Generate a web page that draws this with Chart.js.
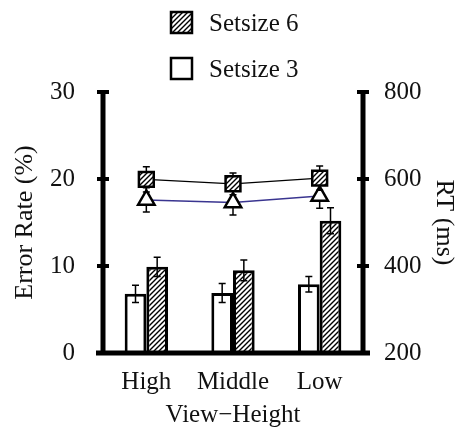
<!DOCTYPE html>
<html lang="en">
<head>
<meta charset="UTF-8">
<title>Error Rate and RT by View-Height</title>
<script src="https://cdn.jsdelivr.net/npm/chart.js"></script>
<style>
  body { margin: 0; background: #fff; }
  #wrap { width: 459px; height: 430px; }
</style>
</head>
<body>
<div id="wrap"><canvas id="chart" width="459" height="430"></canvas></div>
<script>
// data
const categories = ['High', 'Middle', 'Low'];
const errorRate3 = [6.8, 6.9, 7.9];
const errorRate3Err = [1.0, 1.1, 0.9];
const errorRate6 = [9.9, 9.5, 15.2];
const errorRate6Err = [1.1, 1.2, 1.5];
const rt6 = [599, 589, 602];
const rt6Err = [29, 25, 28];
const rt3 = [552, 546, 561];
const rt3Err = [28, 29, 28];
const errorTicks = [0, 10, 20, 30];
const rtTicks = [200, 400, 600, 800];

const FONT = "'Liberation Serif', 'DejaVu Serif', serif";
const INK = '#111';

// diagonal hatch fill
function makeHatch() {
    const c = document.createElement('canvas');
    c.width = 5; c.height = 5;
    const g = c.getContext('2d');
    g.fillStyle = '#fff';
    g.fillRect(0, 0, 5, 5);
    g.strokeStyle = '#000';
    g.lineWidth = 1.4;
    g.beginPath();
    g.moveTo(-1, 6); g.lineTo(6, -1);
    g.moveTo(-1, 1); g.lineTo(1, -1);
    g.moveTo(4, 6); g.lineTo(6, 4);
    g.stroke();
    return g.createPattern(c, 'repeat');
}
const hatch = makeHatch();

function drawErrors(chart, index) {
    const ds = chart.data.datasets[index];
    if (!ds.err) return;
    const meta = chart.getDatasetMeta(index);
    const scale = chart.scales[meta.yAxisID];
    const ctx = chart.ctx;
    ctx.save();
    ctx.strokeStyle = '#000';
    ctx.lineWidth = 1.5;
    meta.data.forEach((el, j) => {
        const v = ds.data[j], e = ds.err[j];
        const yTop = scale.getPixelForValue(v + e);
        const yBot = scale.getPixelForValue(v - e);
        const x = el.x;
        ctx.beginPath();
        ctx.moveTo(x, yTop); ctx.lineTo(x, yBot);
        ctx.moveTo(x - 3.5, yTop); ctx.lineTo(x + 3.5, yTop);
        ctx.moveTo(x - 3.5, yBot); ctx.lineTo(x + 3.5, yBot);
        ctx.stroke();
    });
    ctx.restore();
}

// error bars: under the markers for lines, over the bars
const errorBars = {
    id: 'errorBars',
    beforeDatasetDraw(chart, args) {
        if (chart.data.datasets[args.index].type === 'line') drawErrors(chart, args.index);
    },
    afterDatasetDraw(chart, args) {
        if (chart.data.datasets[args.index].type !== 'line') drawErrors(chart, args.index);
    }
};

// thick axes with crossing tick marks
const axesPlugin = {
    id: 'axesPlugin',
    afterDatasetsDraw(chart) {
        const { ctx, chartArea: a, scales } = chart;
        ctx.save();
        ctx.strokeStyle = '#000';
        ctx.lineWidth = 5;
        ctx.beginPath();
        ctx.moveTo(a.left, a.top); ctx.lineTo(a.left, a.bottom);
        ctx.moveTo(a.right, a.top); ctx.lineTo(a.right, a.bottom);
        ctx.moveTo(a.left - 7, a.bottom); ctx.lineTo(a.right + 7, a.bottom);
        ctx.stroke();
        ctx.lineWidth = 4;
        ctx.beginPath();
        [['y', a.left], ['y1', a.right]].forEach(([id, x]) => {
            scales[id].ticks.forEach(t => {
                const y = scales[id].getPixelForValue(t.value);
                ctx.moveTo(x - 6, y); ctx.lineTo(x + 6, y);
            });
        });
        ctx.stroke();
        ctx.restore();
    }
};

// stacked legend at the top
const legendPlugin = {
    id: 'legendPlugin',
    afterDraw(chart) {
        const ctx = chart.ctx;
        const items = [
            { label: 'Setsize 6', fill: hatch, y: 12 },
            { label: 'Setsize 3', fill: '#fff', y: 58 }
        ];
        ctx.save();
        items.forEach(it => {
            ctx.fillStyle = it.fill;
            ctx.fillRect(171, it.y, 21, 21);
            ctx.strokeStyle = '#000';
            ctx.lineWidth = 2.5;
            ctx.strokeRect(171, it.y, 21, 21);
            ctx.fillStyle = INK;
            ctx.font = '25px ' + FONT;
            ctx.textBaseline = 'middle';
            ctx.fillText(it.label, 209, it.y + 12);
        });
        ctx.restore();
    }
};

new Chart(document.getElementById('chart'), {
    data: {
        labels: categories,
        datasets: [
            {
                type: 'line', label: 'RT Setsize 6', data: rt6, err: rt6Err, yAxisID: 'y1',
                borderColor: '#000', borderWidth: 1.2,
                pointStyle: 'rect', pointRadius: 10.5, pointBackgroundColor: hatch,
                pointBorderColor: '#000', pointBorderWidth: 2.5, order: 0
            },
            {
                type: 'line', label: 'RT Setsize 3', data: rt3, err: rt3Err, yAxisID: 'y1',
                borderColor: '#3a3590', borderWidth: 1.5,
                pointStyle: 'triangle', pointRadius: 9.5, pointBackgroundColor: '#fff',
                pointBorderColor: '#000', pointBorderWidth: 2.5, order: 1
            },
            {
                type: 'bar', label: 'Setsize 3', data: errorRate3, err: errorRate3Err, yAxisID: 'y',
                backgroundColor: '#fff', borderColor: '#000', borderWidth: 3,
                categoryPercentage: 0.5, barPercentage: 1.0, order: 2
            },
            {
                type: 'bar', label: 'Setsize 6', data: errorRate6, err: errorRate6Err, yAxisID: 'y',
                backgroundColor: hatch, borderColor: '#000', borderWidth: 3,
                categoryPercentage: 0.5, barPercentage: 1.0, order: 2
            }
        ]
    },
    options: {
        responsive: false,
        animation: false,
        layout: { padding: { top: 92, left: 0, right: 0, bottom: 0 } },
        plugins: {
            legend: { display: false },
            tooltip: { enabled: false }
        },
        scales: {
            x: {
                offset: true,
                grid: { display: false, drawTicks: false },
                border: { display: false },
                ticks: { color: INK, font: { family: FONT, size: 25 }, padding: 14 },
                title: { display: true, text: 'View−Height', color: INK,
                         font: { family: FONT, size: 25 }, padding: 0 },
                afterFit: s => { s.height = 77; }
            },
            y: {
                position: 'left', min: 0, max: 30,
                afterBuildTicks: s => { s.ticks = errorTicks.map(v => ({ value: v })); },
                grid: { display: false, drawTicks: false },
                border: { display: false },
                ticks: { color: INK, font: { family: FONT, size: 25 }, padding: 28 },
                title: { display: true, text: 'Error Rate (%)', color: INK,
                         font: { family: FONT, size: 26 }, padding: { top: 10, bottom: 0 } },
                afterFit: s => { s.width = 103; }
            },
            y1: {
                position: 'right', min: 200, max: 800,
                afterBuildTicks: s => { s.ticks = rtTicks.map(v => ({ value: v })); },
                grid: { display: false, drawTicks: false },
                border: { display: false },
                ticks: { color: INK, font: { family: FONT, size: 25 }, padding: 21 },
                title: { display: true, text: 'RT (ms)', color: INK,
                         font: { family: FONT, size: 26 }, padding: { top: 0, bottom: 0 } },
                afterFit: s => { s.width = 96; }
            }
        }
    },
    plugins: [errorBars, axesPlugin, legendPlugin]
});
</script>
</body>
</html>
